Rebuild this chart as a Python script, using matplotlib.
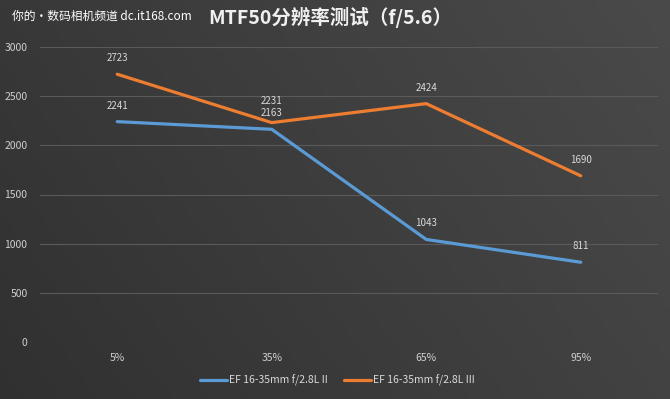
import numpy as np
import matplotlib.pyplot as plt

plt.rcParams['font.family'] = ['Noto Sans CJK SC', 'DejaVu Sans']

categories = ['5%', '35%', '65%', '95%']
series_names = ['EF 16-35mm f/2.8L II', 'EF 16-35mm f/2.8L III']
mk2 = [2241, 2163, 1043, 811]
mk3 = [2723, 2231, 2424, 1690]
colors = ['#5B9BD5', '#ED7D31']
yticks = [0, 500, 1000, 1500, 2000, 2500, 3000]

fig = plt.figure(figsize=(6.7, 3.99), dpi=100)

# dark gradient background
bg = fig.add_axes([0, 0, 1, 1], zorder=-10)
gx = np.linspace(0, 1, 200)
gy = np.linspace(0, 1, 120)
X, Y = np.meshgrid(gx, gy)
grad = 0.19 + 0.07 * X + 0.03 * Y
bg.imshow(np.dstack([grad, grad, grad]), aspect='auto', extent=[0, 1, 0, 1], origin='lower')
bg.axis('off')

ax = fig.add_axes([40 / 670, 1 - 342 / 399, 618 / 670, 295 / 399])
ax.patch.set_alpha(0)
x = np.arange(len(categories))

for k, (vals, c, name) in enumerate(zip([mk2, mk3], colors, series_names)):
    ax.plot(x, vals, color=c, lw=2.3, label=name, solid_capstyle='round')
    for xi, v in zip(x, vals):
        # the two 35% labels sit almost on top of each other
        dy = 12 if (k == 1 and xi == 1) else 8
        ax.annotate(str(v), (xi, v), xytext=(0, dy), textcoords='offset points',
                    ha='center', va='bottom', fontsize=7, color='#d9d9d9')

ax.set_xlim(-0.5, len(categories) - 0.5)
ax.set_ylim(0, 3000)
ax.set_yticks(yticks)
ax.set_xticks(x)
ax.set_xticklabels(categories)
ax.tick_params(colors='#d0d0d0', labelsize=7.5, length=0, pad=8)
ax.tick_params(axis='y', pad=9)
ax.grid(axis='y', color='#5a5a5a', lw=0.8)
for s in ax.spines.values():
    s.set_visible(False)

leg = ax.legend(loc='upper center', bbox_to_anchor=(0.481, -0.08), ncol=2, frameon=False,
                fontsize=7.5, labelcolor='#d9d9d9', handlelength=2.6, handletextpad=0.15,
                columnspacing=1.6)

fig.text(330 / 670, 1 - 17 / 399, 'MTF50分辨率测试（f/5.6）', ha='center', va='center',
         fontsize=14, fontweight='bold', color='#f0f0f0')
fig.text(12 / 670, 1 - 16 / 399, '你的·数码相机频道 dc.it168.com', ha='left', va='center',
         fontsize=8.5, color='white')

fig.savefig('out.png', dpi=100)
